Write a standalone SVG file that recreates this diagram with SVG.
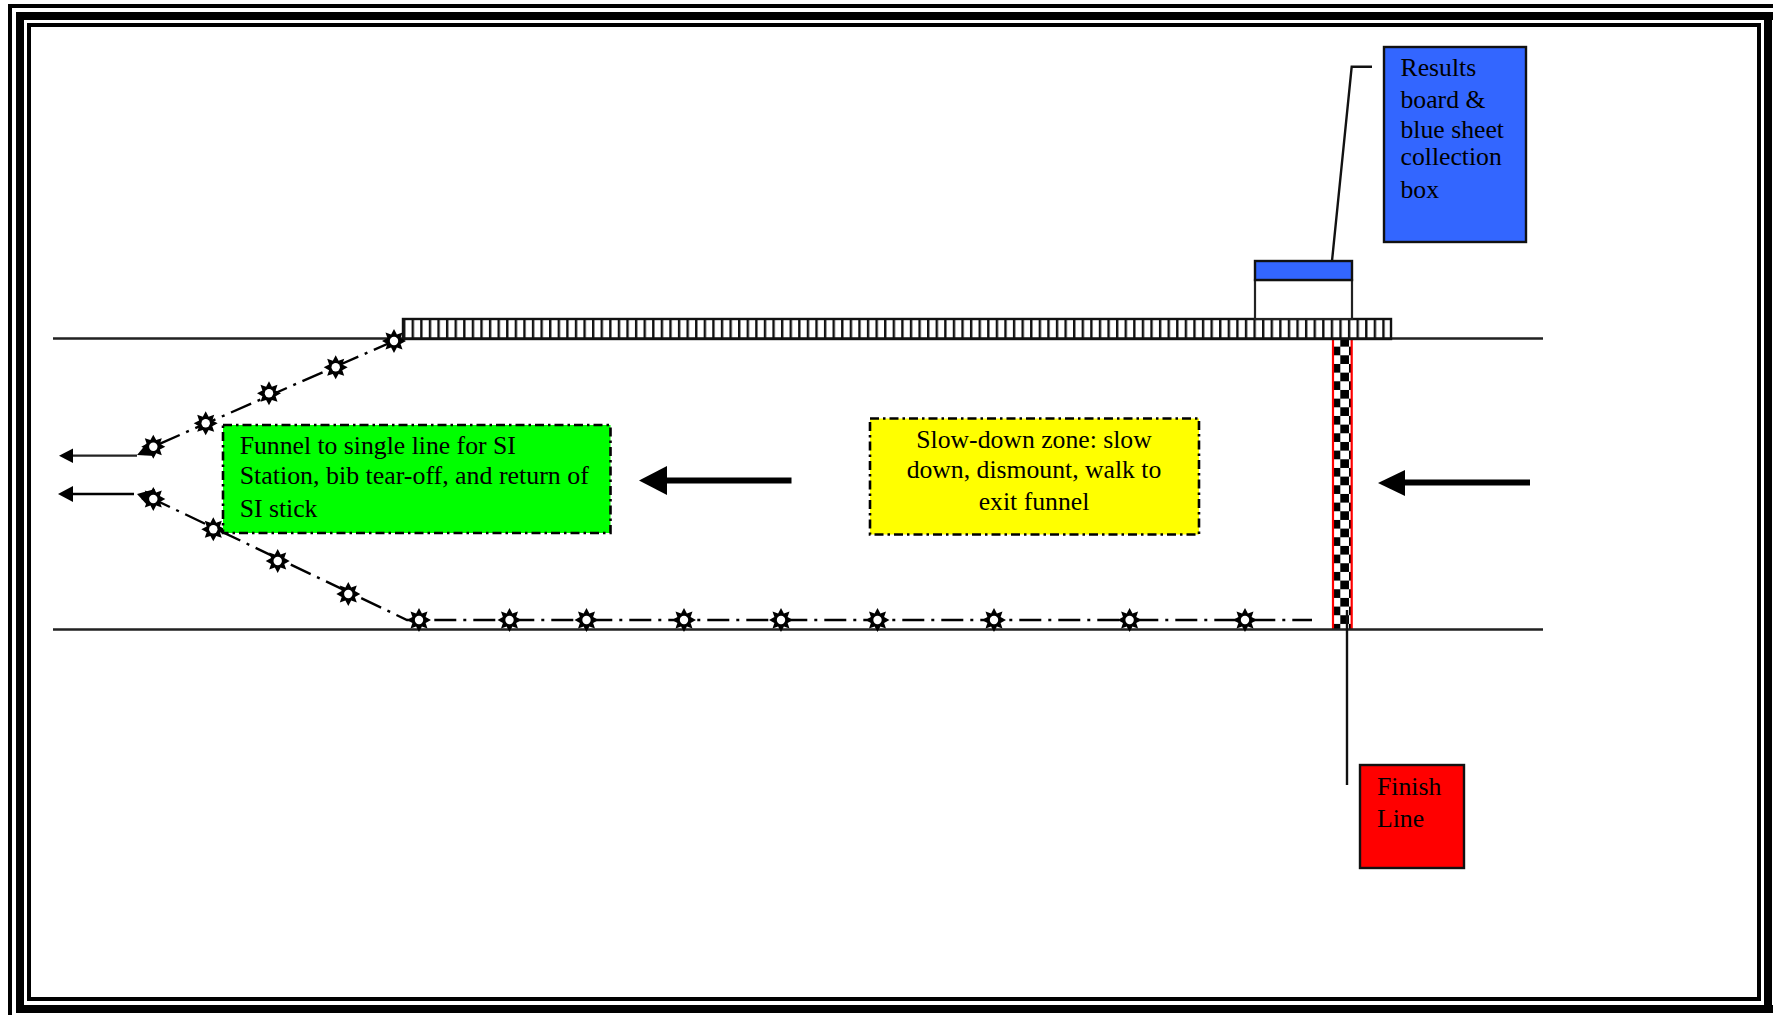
<svg xmlns="http://www.w3.org/2000/svg" width="1773" height="1015" viewBox="0 0 1773 1015">
<style>
text{font-family:"Liberation Serif","Times New Roman",serif;font-size:25.7px;fill:#000}
.road{stroke:#222;stroke-width:2.6;fill:none}
.lead{stroke:#111;stroke-width:2.4;fill:none}
.dd{stroke:#000;stroke-width:2.4;fill:none;stroke-dasharray:22 7 3 7}
.zone{stroke:#000;stroke-width:2.6;stroke-dasharray:9 4 2.5 4}
.box{stroke:#111;stroke-width:2.4}
</style>
<defs>
<pattern id="pick" patternUnits="userSpaceOnUse" x="403" y="319" width="8.59" height="20">
<rect x="0" y="0" width="2.4" height="20" fill="#111"/>
</pattern>
<pattern id="check" patternUnits="userSpaceOnUse" x="1340.3" y="355.3" width="17.33" height="17.33">
<rect width="8.67" height="8.67" fill="#000"/>
<rect x="8.67" y="8.67" width="8.67" height="8.67" fill="#000"/>
</pattern>
<g id="star">
<polygon fill="#000" points="0,-12 2.9,-6.6 8.5,-8.5 6.6,-2.9 12,0 6.6,2.9 8.5,8.5 2.9,6.6 0,12 -2.9,6.6 -8.5,8.5 -6.6,2.9 -12,0 -6.6,-2.9 -8.5,-8.5 -2.9,-6.6"/>
<circle r="4.2" fill="#fff"/>
</g>
</defs>
<rect width="1773" height="1015" fill="#fff"/>
<g id="frame" fill="none" stroke="#000">
<rect x="10" y="6" width="1790" height="1040" stroke-width="4"/>
<rect x="20" y="16" width="1748" height="993" stroke-width="8"/>
<rect x="29" y="25" width="1730" height="974" stroke-width="4"/>
<path d="M1768 16H1773M1768 1009H1773" stroke-width="8"/>
</g>
<g id="finish-strip">
<rect x="1332.5" y="339" width="19.5" height="290" fill="url(#check)"/>
<path d="M1333 339V629M1351.7 339V629" stroke="#f00" stroke-width="2.2" fill="none"/>
</g>
<g id="road">
<path class="road" d="M53 338.5H1543M53 629.5H1543"/>
</g>
<g id="fence">
<rect x="403" y="319" width="988" height="20" fill="url(#pick)" stroke="#111" stroke-width="2.4"/>
</g>
<g id="board">
<rect x="1255" y="280" width="97" height="39" fill="#fff" stroke="#222" stroke-width="2.2"/>
<rect x="1255" y="261" width="97" height="19" fill="#36f" stroke="#111" stroke-width="2.4"/>
</g>
<g id="connectors">
<path class="lead" d="M1372 66.7H1351.7L1332 261"/>
<path class="lead" d="M1347 610V785"/>
<path class="dd" d="M394 341L150 448"/>
<path class="dd" d="M150 497.5L407 620H1312"/>
<path d="M73 455.7H137" stroke="#222" stroke-width="2.2" fill="none"/>
<polygon points="59,455.7 73,448.5 73,463"/>
<path d="M73 494H134" stroke="#000" stroke-width="2.6" fill="none"/>
<polygon points="58,494 73,486 73,502"/>
<polygon points="137,455 147,443 155,456"/>
<polygon points="137,494 155,489 148,506"/>
<path d="M662 480.5H791.5" stroke="#000" stroke-width="6" fill="none"/>
<polygon points="639,480.5 667,466 667,495"/>
<path d="M1400 482.5H1530" stroke="#000" stroke-width="6" fill="none"/>
<polygon points="1378,483 1405,470 1405,496"/>
</g>
<g id="stars">
<use href="#star" x="394" y="341"/>
<use href="#star" x="335.7" y="367.3"/>
<use href="#star" x="269" y="393.3"/>
<use href="#star" x="205.7" y="423.3"/>
<use href="#star" x="153.3" y="446.7"/>
<use href="#star" x="153.3" y="499"/>
<use href="#star" x="213.3" y="529.3"/>
<use href="#star" x="277.7" y="561"/>
<use href="#star" x="348.3" y="594"/>
<use href="#star" x="419" y="620"/>
<use href="#star" x="509.5" y="620"/>
<use href="#star" x="586.5" y="620"/>
<use href="#star" x="684" y="620"/>
<use href="#star" x="781" y="620"/>
<use href="#star" x="877.5" y="620"/>
<use href="#star" x="994" y="620"/>
<use href="#star" x="1129.6" y="620"/>
<use href="#star" x="1245" y="620"/>
</g>
<g id="funnel-note">
<rect class="zone" x="223" y="425" width="387.5" height="108" fill="#0f0"/>
<text x="239.7" y="454">Funnel to single line for SI</text>
<text x="239.7" y="484" style="font-size:25.9px">Station, bib tear-off, and return of</text>
<text x="239.7" y="517">SI stick</text>
</g>
<g id="slowdown-note">
<rect class="zone" x="870" y="418.5" width="329" height="116" fill="#ff0"/>
<text x="1034" y="447.5" text-anchor="middle">Slow-down zone: slow</text>
<text x="1034" y="477.5" text-anchor="middle">down, dismount, walk to</text>
<text x="1034" y="510" text-anchor="middle">exit funnel</text>
</g>
<g id="results-note">
<rect class="box" x="1384" y="47" width="142" height="195" fill="#36f"/>
<text x="1400.5" y="76">Results</text>
<text x="1400.5" y="107.5">board &amp;</text>
<text x="1400.5" y="137.5">blue sheet</text>
<text x="1400.5" y="165">collection</text>
<text x="1400.5" y="197.5">box</text>
</g>
<g id="finish-note">
<rect class="box" x="1360" y="765" width="104" height="103" fill="#f00"/>
<text x="1377" y="795">Finish</text>
<text x="1377" y="827">Line</text>
</g>
</svg>
